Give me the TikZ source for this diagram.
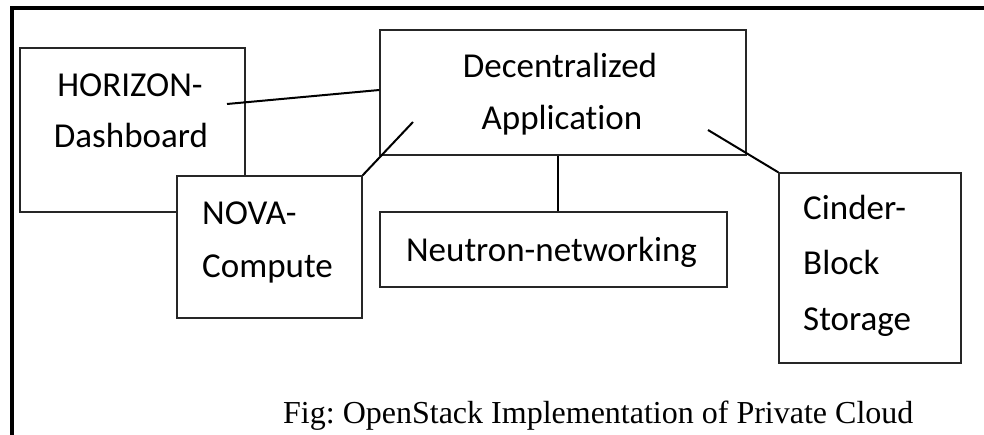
\documentclass[tikz,border=0pt]{standalone}
\usepackage{fontspec}
\setmainfont{Liberation Serif}
\newfontfamily\boxfont[Ligatures={NoCommon}]{Carlito}
\frenchspacing
\begin{document}
\begin{tikzpicture}[x=1pt,y=-1pt,
  box/.style={draw=black!85, line width=1.3pt, fill=white, inner sep=0pt},
  conn/.style={line width=2pt, draw=black},
  lbl/.style={font=\boxfont\fontsize{35}{42}\selectfont, inner sep=0pt, anchor=base},
  lblw/.style={lbl, anchor=base west},
  caption/.style={font=\fontsize{32}{38}\selectfont, inner sep=0pt, anchor=base west},
  frameline/.style={line width=4pt, draw=black}]
\useasboundingbox (0,0) rectangle (984,435);
\draw[frameline] (12,435) -- (12,8) -- (984,8);

% boxes
\node[box, minimum width=225pt, minimum height=164pt] (H) at (132.5,130) {};
\node[box, minimum width=185pt, minimum height=142pt] (N) at (269.5,247) {};
\node[box, minimum width=366pt, minimum height=125pt] (D) at (563,92.5) {};
\node[box, minimum width=347pt, minimum height=75pt] (Ne) at (553.5,249.5) {};
\node[box, minimum width=182pt, minimum height=190pt] (C) at (870,268) {};

% labels
\node[lbl] (h1) at (130,97) {HORIZON-};
\node[lbl] (h2) at (131,148) {Dashboard};
\node[lbl] (d1) at (560,78) {Decentralized};
\node[lbl] (d2) at (562,130) {Application};
\node[lblw] (n1) at (202,225) {NOVA-};
\node[lblw] (n2) at (202,278) {Compute};
\node[lbl] (ne1) at (551.5,262) {Neutron-networking};
\node[lblw] (c1) at (803,220) {Cinder-};
\node[lblw] (c2) at (803,275) {Block};
\node[lblw] (c3) at (803,330) {Storage};
\node[caption] (cap) at (283,423) {Fig: OpenStack Implementation of Private Cloud};

% connectors
\coordinate (hs) at (227,104);
\coordinate (ds) at (413,122);
\coordinate (dc) at (708,130);
\coordinate (vx) at (558,0);
\draw[conn] (hs) -- ([yshift=2.5pt]D.west);
\draw[conn] (N.north east) -- (ds);
\draw[conn] (D.south -| vx) -- (Ne.north -| vx);
\draw[conn] (dc) -- (C.north west);
\end{tikzpicture}
\end{document}
